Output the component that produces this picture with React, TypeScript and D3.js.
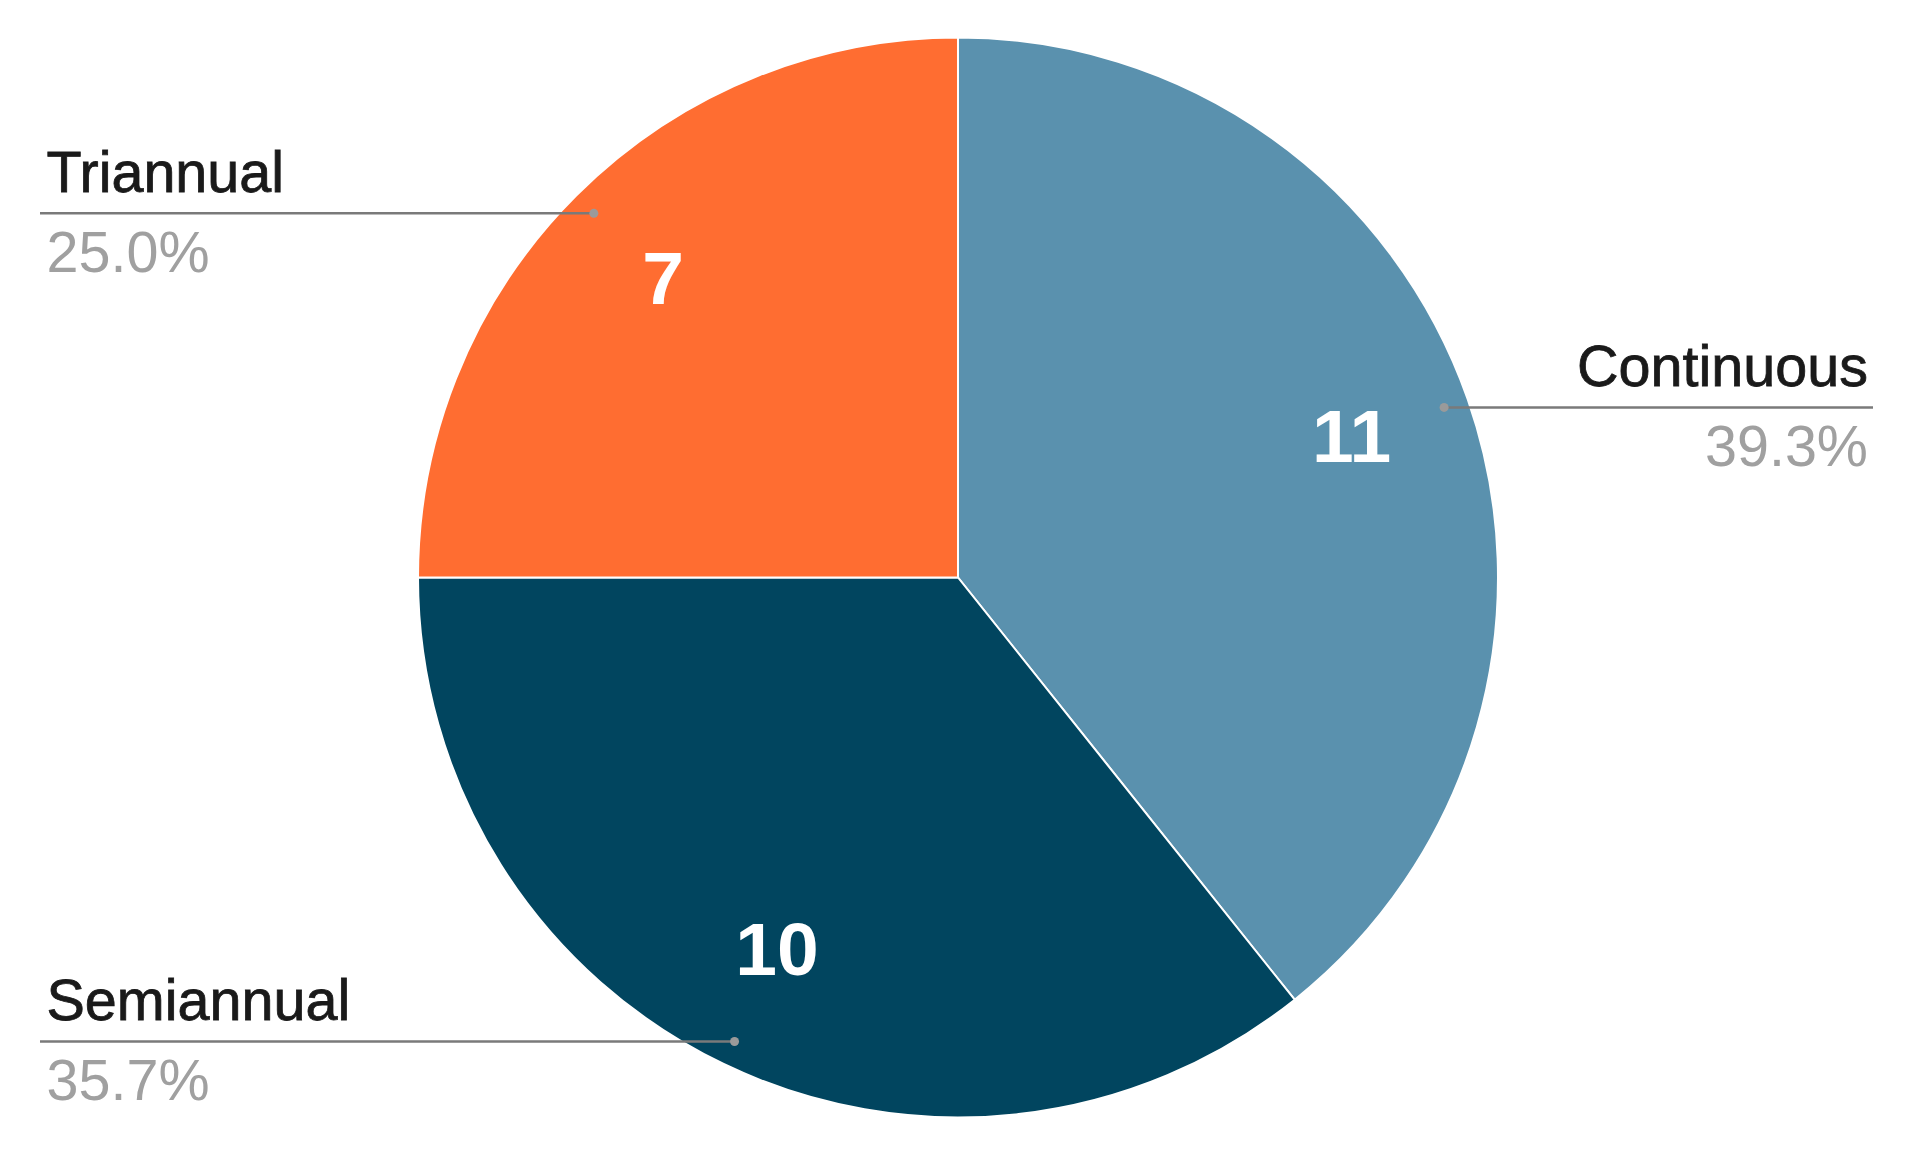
import React from "react";
import * as d3 from "d3";

const categories = ["Continuous", "Semiannual", "Triannual"];
const values = [11, 10, 7];
const colors = ["#5a91ae", "#01455f", "#ff6d31"];

const W = 1924;
const H = 1157;
const CX = 958;
const CY = 577.5;
const R = 540;
const DOT_R = 515;
const VAL_R = 417;
const FONT = "'Liberation Sans', Arial, sans-serif";

export default function App() {
  const pie = d3.pie<number>().sort(null).value((d) => d)(values);
  const arc = d3.arc<d3.PieArcDatum<number>>().innerRadius(0).outerRadius(R);
  const total = d3.sum(values);
  const fmt = d3.format(".1%");

  return (
    <svg
      width={W}
      height={H}
      style={{ position: "absolute", left: 0, top: 0, display: "block", background: "#fff" }}
    >
      <g transform={`translate(${CX},${CY})`}>
        {pie.map((p, i) => (
          <path key={i} d={arc(p) || ""} fill={colors[i]} stroke="#fff" strokeWidth={2} />
        ))}
        {pie.map((p, i) => {
          const a = (p.startAngle + p.endAngle) / 2;
          return (
            <text
              key={"v" + i}
              x={VAL_R * Math.sin(a)}
              y={-VAL_R * Math.cos(a)}
              dy="0.29em"
              textAnchor="middle"
              fill="#fff"
              fontFamily={FONT}
              fontWeight="bold"
              fontSize={75}
            >
              {values[i]}
            </text>
          );
        })}
      </g>
      {pie.map((p, i) => {
        const a = (p.startAngle + p.endAngle) / 2;
        const dx = CX + DOT_R * Math.sin(a);
        const dy = CY - DOT_R * Math.cos(a);
        const right = Math.sin(a) > 0;
        const lineEnd = right ? 1873 : 40;
        const textX = right ? 1868 : 46.5;
        const anchor = right ? "end" : "start";
        return (
          <g key={"l" + i}>
            <line x1={dx} y1={dy} x2={lineEnd} y2={dy} stroke="#7a7a7a" strokeWidth={2.5} />
            <circle cx={dx} cy={dy} r={4.5} fill="#9a9a9a" />
            <text
              x={textX}
              y={dy - 21}
              textAnchor={anchor}
              fill="#1a1a1a"
              stroke="#1a1a1a"
              strokeWidth={0.8}
              fontFamily={FONT}
              fontSize={57.5}
            >
              {categories[i]}
            </text>
            <text
              x={textX}
              y={dy + 59}
              textAnchor={anchor}
              fill="#a0a0a0"
              fontFamily={FONT}
              fontSize={57.5}
            >
              {fmt(values[i] / total)}
            </text>
          </g>
        );
      })}
    </svg>
  );
}
